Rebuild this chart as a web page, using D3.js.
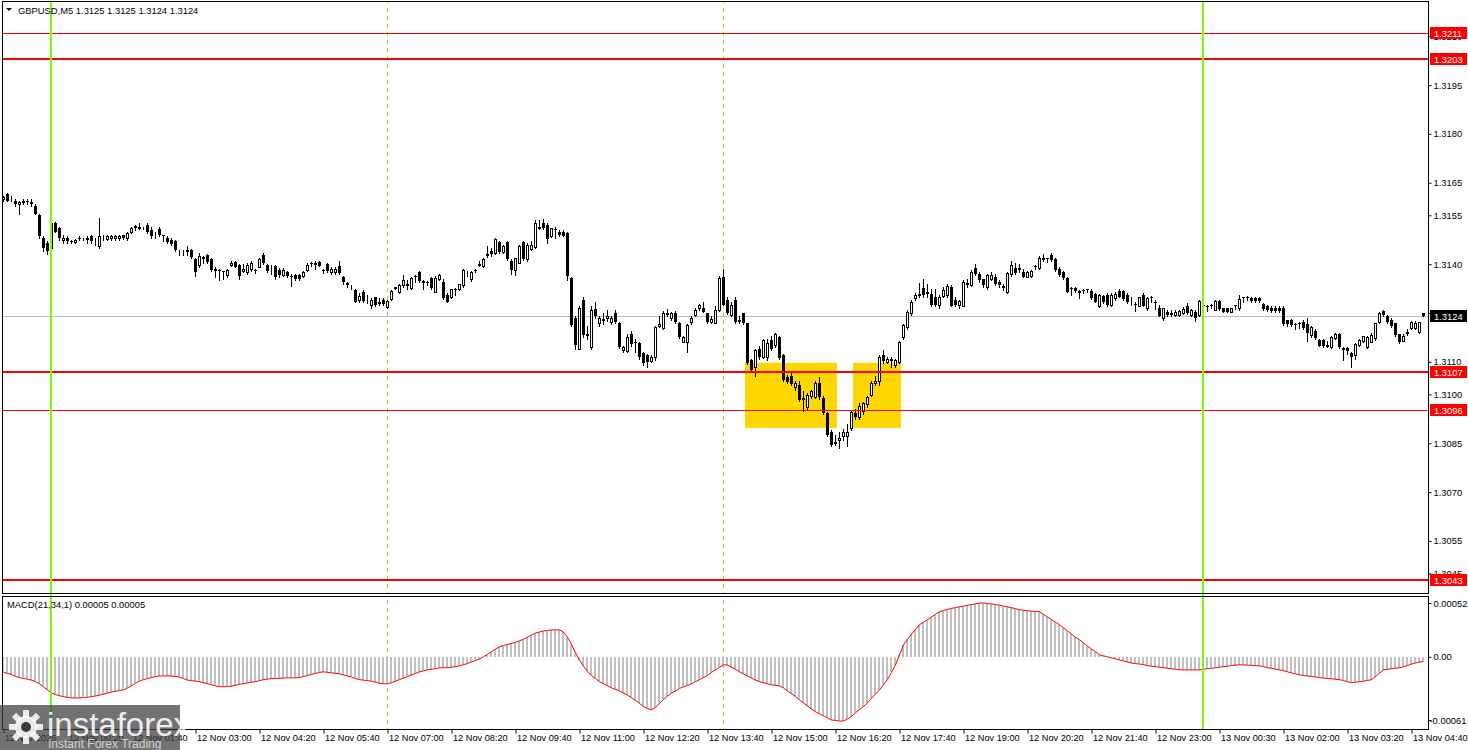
<!DOCTYPE html>
<html>
<head>
<meta charset="utf-8">
<script src="https://cdn.jsdelivr.net/npm/d3@7/dist/d3.min.js"></script>
<style>
  body { margin: 0; background: #fff; }
  svg text { font-family: "Liberation Sans", Arial, sans-serif; font-size: 9.4px; fill: #000; }
</style>
</head>
<body>
<svg id="chart" width="1468" height="750"></svg>
<script>
// GBPUSD M5 with MACD(21,34,1)

const symbolTitle = 'GBPUSD,M5  1.3125 1.3125 1.3124 1.3124';
const macdTitle = 'MACD(21,34,1) 0.00005 0.00005';
const basePrice = 1.3; // candle values below are pips above 1.3000

const opens = [160,161.5,160,159.5,158.5,159,159.5,159,158,155,148,146.5,145,152.5,151,147.5,148,147,146.8,148,147.8,147.8,148.5,147,145.5,148.5,147.8,148,148,148,148.8,148,150,151.7,151,151,152,150.5,149.5,150.8,148.8,148,147.5,147,144,143.5,144,144.3,141.5,139.7,142,142.8,141.5,138.3,138.3,137.8,136.6,139.8,140.6,139.7,138,137.5,138.5,138.3,139.2,142.8,139.7,138.5,139.5,138.3,136.8,137.7,136.5,136.7,136.7,136.4,138.2,140.5,140,140.6,138.3,139.9,137.5,137.5,139.5,136,134,133,132,129,131.5,129.5,127.3,129.8,128,129,126.9,129.2,132.7,131.5,133.5,134,132.6,136.5,137.5,134.5,134.5,135.6,131.5,135.4,134.6,130.6,129.8,132.5,132.3,133.5,137.8,135.5,138.3,139.8,139.4,142.8,144,143.5,146.9,143.8,146.9,141,138.2,140.5,146.9,141.5,144.6,145.4,151,152.7,152,148.6,150.8,150,149.8,149.7,135.6,123.4,114,129,118.3,114.5,126.3,122,123,123.5,122.3,125,122,113.5,113.4,118.7,116,115.7,112.6,112,110.4,111.4,121,120.3,124.8,123.4,124.9,121.8,116.2,116.2,122.3,124.4,126.4,126.4,124.9,122.3,122,125.9,136,129,124.4,129,122.5,124.9,121.8,110.6,108.3,113.8,111.6,111.4,116.7,115.2,117.7,112.1,105.4,105.5,102.4,103,98.5,96.2,99.5,99.3,103.5,98.8,94.2,88.6,85,86,87.2,87.2,89.6,94.3,93.2,95,97,99.8,103.5,104,112.1,110,110.5,109,110,117.6,120.7,125,129.5,130.5,132.6,131,130.8,130,127.3,130.2,130.5,132.9,129,127.3,127.1,134,133.6,138.7,137.1,135.3,132.9,135.5,136.1,134.5,133,131.5,137,138.7,138.5,137.7,136.2,136.5,139.5,138.7,141.5,141.8,142.8,141.5,138.4,137.5,135.6,132.7,132.8,131.5,132,132.3,131.8,130.8,127.1,130.2,130.5,127.5,129.5,131.8,131.8,130.5,128.7,127.8,127.2,130.5,126.5,129.8,128.5,126.6,123.4,125.4,124.8,124.4,124.5,125,127,124.4,125.4,124.5,127.3,127,127.6,126,128.7,126.4,126.4,125.4,127.3,126.4,129.8,130,129.7,129.7,129.7,127.7,127.2,126.6,126.6,126.6,126.6,122.8,122.8,121.5,122,122.1,121.5,118.2,119.5,116.7,116.7,115,114.6,117.2,118.7,114,114.3,112.6,112.1,115.2,116.5,114.6,116.2,117.2,122.3,125.6,124.2,123,121.8,118.4,116.5,119,120.3,120.5,119.3,125];
const highs = [161,162,161,160,159.5,160,160,160,158.5,155.5,148.5,147,153,153,151.5,149,148.5,147.5,147.8,148.5,148,148.5,148.8,148,154.2,149,148.8,148.8,148.8,149,149,150,151.5,152,152.5,151.3,152.5,151.5,149.8,151.5,149,148.5,148,147.5,144.3,144.3,145.5,144.5,142,143.5,142.5,143,142,139,138.5,138,138.5,141,141,140,140,140.5,141,138.5,141.8,143.5,140,139.7,139.8,138.8,138.8,138,137,137,137,138,140.2,140.7,141,141,138.5,140.5,139,139,141,136.5,134.5,133.6,132.5,131,132,130.5,129.5,130,129.5,129.5,129,132,133,133.8,136.7,135,136,136.8,138,135,134.8,136,136.3,137,135.5,131,132.5,132.7,134,138.5,138,137.8,138.5,141,141.8,145.6,145,148,147,146,147,141.5,142,145.8,147.2,146.5,147,153.5,153.7,154,152.5,151,151.5,150.5,150.5,150,136,124,127,130,121,127,128.5,124,125,126,124,126,122.3,115,118.5,119.5,117,116,113,112.5,112,121,124,125.5,126.3,125.3,125.5,122.3,118,121.5,124,126.5,127.7,128.5,125,124,127,136.5,138.4,130,128.3,130,124,125,122,111,114,115,117,117,118,119,118,112.5,106,106.5,104,104,101,100.5,101.5,104,105.4,99.5,94.5,89,87.5,88.6,89.5,91,95,95.5,97.5,97.8,99.5,104,105.5,112,113.5,111.5,111.5,111,116.5,121.5,125.8,129,131,134.3,135.5,134,132.5,132.5,130.5,133,134,133.5,130,129,135,135.5,138.2,140,137.5,135.5,137,137.5,137,135,134,137.5,141,140.5,140,138.5,138,138.2,139.8,142.5,143,142,143.5,142,139,138,136,133,133,132,132.5,132.5,132.5,131,130.8,130.5,131,131,131.5,132.5,132.2,131,129.8,128.5,130,131,130,130.3,129,127.5,126.6,126,126,125.8,126,126.8,128,126.2,126,129,127.5,127.3,127.8,129,129,126.6,126.6,126.6,127.5,130.5,130,130.3,130,130,130,128,127.5,127,127,127,127,123,123.2,121.8,122.3,123,123.5,121,120,117,117,116.5,118,119,119,114.5,114.5,113,115.8,117,118,118,119,122,125.3,126,124.5,123.5,122,118.7,118.5,120,122.6,122.6,122.3,125];
const lows = [159.5,159.5,159.5,158,155.5,158.5,158.5,158,155.5,148,144,143,144,150,147.5,146.5,146.5,146.5,146.5,147.5,147.5,146.5,146.5,146,145,147.5,147.5,147.5,147.5,147.5,147.8,147.5,149.5,150.5,150.8,150.8,149.5,148,148,148.5,147,146.5,146,144,142.8,142.8,142.8,142,136.5,139,140.5,140.5,138,136,135,135.5,136,139.5,139,135.5,137.5,137,138,137.3,139,140,137.5,137,135.5,136,136.5,136,133.3,135,135,136,137.8,139.5,138.5,139.3,137.4,137.5,137,137,137,134,133,132.5,128.3,128.5,128.5,128,126.5,127,127.5,127.5,126.5,129,132.5,131,133,132.5,132.3,134.6,134.5,132.5,133.5,132.5,131.3,135,129.3,128.3,129.5,130.5,132,133,136.5,134.8,137.5,139.3,139,142.3,142.5,143,143.5,143.5,141.3,137,136.7,140.2,141.3,141,144.3,145,150.7,150.8,146.5,148.3,148,148.5,148.5,135,121,114,113.8,117.5,117,114,123.5,121,121.5,122.5,121.5,122,114.3,113,113,115,113,111,109,108.5,110,110.5,120.7,120,124,123,122,117.3,116,113,121.5,124,126,125.3,122,122,121.8,125.5,127.3,124.8,124,122,122,121.5,109.3,107,105.5,111,111.3,110.5,113.5,114.5,111,104,103.5,103,101.5,98,94.8,95.5,99,99,98.5,94,87.3,84,84.5,83.5,86,84,89,92.5,92.5,94,96,99.5,103,103,109.5,109.5,108.5,108.5,109.5,117,120,124.5,129,130,130,130,127,127,126.5,130,130,127,127,126.5,127,133,133.3,136.8,134.5,133,132.5,135,133.5,133,132,131,136.5,137,137.5,136,136,136,138.4,138.5,141,140.8,141,138,136.5,135.5,131.3,130.5,131.5,129.5,131,131.3,129.3,128.3,126.8,128,127,127,129,129.8,129,128,127.5,125.7,127,127,126,128.5,126.2,124,123,124,124,124,124,124.8,124.7,124,122.5,124,126.7,125.5,126.5,125.8,126,125.2,125.2,125.2,126.2,126,128.5,129,128.5,128.5,128.5,126,125.5,125.2,125.2,125.2,121.3,121,121,120,120.5,120,116.5,117.5,117,114.8,114.5,114.5,114.3,117,114.3,110.5,112.5,108.5,111,115,116,114.3,116,116.8,122,124.2,122,120.8,118,115.8,116.3,118.2,120,120.2,119,124];
const closes = [160.5,159.5,160,158.5,159,159.5,159,158.5,155.5,148.5,145,144,152.5,150,148,148,147,146.8,147.5,147.8,147.8,148,147,147.2,148.7,148.5,148.5,148.5,148.5,148.6,148,149.6,151,151,151.5,151,150,148.5,149.5,149,148.7,146.7,146.2,144.3,144,143.5,144.3,142.3,137.7,142.5,142.3,140.8,138.3,138.5,137.8,137.5,138.2,140.5,139.2,136.5,138.5,139.7,140.5,138.2,141.5,140.3,137.8,138.5,136.2,136.7,138.3,136.5,136,135.4,135.5,137.7,139.7,140.4,140.3,139.5,138.2,137.8,138.5,138.5,137.3,134.4,134.2,133,128.5,130.2,128.8,129.7,129,127.4,128.3,127.8,128.7,131.8,132.9,133.5,135,133.2,135.6,136.3,134.7,134.7,134.3,132.6,135.8,136.7,129.5,128.5,132.3,132.3,133.9,138.3,137.8,137.5,138.2,140,141.6,143,143,147.7,143.8,145.5,141.5,138.3,141.8,145.6,141.5,146,145.9,152.5,151.5,151,147.6,151,150.5,148.8,148.6,136.5,121.3,115.2,126.4,118.2,118.5,126,124,123.4,123.3,124,123.5,122.3,114.5,114.5,117.7,115.5,115.8,111.4,109.7,110,111.6,120.8,121.5,124.9,125,124.9,122.3,117.5,117.5,121.3,123.4,125.9,127.4,125.4,122.3,123.3,125.9,135.6,127.5,125,127.4,122.3,122.8,121.8,109.5,107.5,113.6,111.4,116.7,115.7,113.8,118.5,111.1,104.3,103.8,103.2,103.6,98.3,99,99.8,101,103.4,99.3,94.2,87.5,84.5,85.5,86.5,88.6,88.5,94.7,93,96.5,97.3,99.2,103.4,104,111.5,110.3,111,110.8,110.5,116.1,121.3,125.3,128.4,130.5,130.8,130.6,131.3,127.5,127.3,129.8,132,133.3,127.2,127.3,128.7,134.6,134.3,137.7,137,135.2,133.7,136.7,136.7,134,133.5,133.2,137.4,139.7,137.2,138.8,136.2,137.7,137.8,139.4,141.8,141.8,141.7,141.3,138.2,136.7,135.8,131.5,132.5,131.6,131.8,131.8,132.2,129.6,128.5,130.5,128.5,127.3,130.5,130.8,130,129.3,128.3,128.8,127.6,129.8,127.2,129.7,129.7,128.3,124.2,126.4,124.5,125,125.4,125.6,126.2,125,125.8,123.5,128.7,127,126.8,127.5,128.7,126.3,125.4,125.4,126.4,127.2,129.3,129.7,129.9,128.8,128.8,128.8,126.3,125.8,125.5,125.5,125.5,121.5,121.5,121.3,121.4,121.8,120.3,119,120.8,117.2,115,114.8,115.2,117.7,118.7,114.5,114.1,113.2,111.4,115.4,116.7,117.8,117.7,118.2,121.8,124.9,124.4,122.3,121,118.2,116.2,117.8,119.3,122.3,122,122.1,124];

// MACD main value per bar, in units of 0.00001
const macdValues = [-15,-16,-17,-19,-20,-21,-21.5,-22.5,-24,-26,-29,-32,-35,-36.5,-37.5,-38.5,-39,-39.7,-39.7,-39.7,-39.5,-39,-38.4,-37.8,-37,-36,-35,-34,-33.3,-32.5,-32,-30,-28,-25.5,-23.5,-22,-21,-20,-19,-18.5,-18.4,-18.4,-18.5,-19,-19.5,-21,-22.5,-23,-23.5,-24,-25,-26,-27,-28,-28.8,-29,-28.7,-28.3,-27.5,-26.5,-26,-25.2,-24.5,-24,-23,-22,-21.5,-21,-21,-20.8,-20.5,-20.3,-20.3,-20.3,-20,-19,-18,-17,-16,-15,-14.5,-15,-15.5,-16,-16.5,-17.5,-18.5,-19.5,-21,-22,-22.5,-23,-23.5,-24.5,-25.5,-26,-26,-25,-23.5,-22,-20.5,-19,-17.5,-16,-14.5,-13.5,-12.5,-12,-11.5,-10.6,-10.5,-10.5,-10,-9.5,-8.7,-7.5,-6.5,-5,-3.5,-2,0,2.5,5,7.5,9.7,11,12,13,14,15.5,17,19,21,23,24,25,25.5,26,26,26,24,19,12,4,-3,-9,-14,-18,-21,-24,-26,-28,-30,-31.5,-33,-35,-37,-39.5,-42,-45,-48,-50,-51,-49,-45,-41,-38,-35,-33,-30.5,-29,-27.5,-26,-24,-22,-20,-18,-15,-12.6,-10,-7.7,-8,-10,-12,-14.5,-16.5,-18.5,-20.5,-22.5,-24,-25,-26,-27,-27.5,-28,-30,-33,-35.5,-38.5,-41.6,-44.5,-47.5,-50.5,-53,-55,-57,-59,-61,-61.5,-62,-62,-60,-57.5,-54,-51,-48,-44.5,-40,-36,-32,-27,-22,-15,-8,2,11.6,17,22,26.5,31,33.5,36,38.5,41,43.6,44.8,45.8,46.8,47.6,48.4,49,49.8,50.5,51.2,52,52,51.5,51,50.5,50,49,48.2,47.4,46.5,45.5,45,44.6,44.2,43.8,43.6,41,38.5,36,33.5,31,28,25,22,19,16.5,13.5,10.5,7.5,5,2,1,0,-1,-2,-3,-4,-5,-6,-6.5,-7,-7.5,-8.5,-9,-9.5,-10,-10.5,-11,-11.5,-12,-12.6,-12.6,-12.6,-12.6,-12.6,-12.6,-12,-11.5,-11,-10.5,-10,-9.5,-9,-8.5,-8,-7.7,-7.8,-8,-8.2,-8.5,-8.7,-9.5,-10.5,-11,-12,-12.6,-13.5,-14.5,-15.5,-16.5,-17.4,-18,-18.5,-19,-19.5,-20,-20.5,-21,-21.2,-21.6,-22,-23,-24,-25,-24.5,-24,-23.5,-22.8,-22,-19,-16,-12.6,-12,-11.5,-11,-10.6,-9.5,-8.5,-7,-6,-5,-4.5];

const priceTicks = [1.3210, 1.3195, 1.3180, 1.3165, 1.3155, 1.3140, 1.3125, 1.3110, 1.3100, 1.3085, 1.3070, 1.3055, 1.3045];
const macdTicks = [0.00052, 0, -0.00061];
const macdTickText = ['0.00052', '0.00', '-0.00061'];
const timeLabels = ['11 Nov 2025', '12 Nov 00:20', '12 Nov 01:40', '12 Nov 03:00', '12 Nov 04:20', '12 Nov 05:40',
  '12 Nov 07:00', '12 Nov 08:20', '12 Nov 09:40', '12 Nov 11:00', '12 Nov 12:20', '12 Nov 13:40', '12 Nov 15:00',
  '12 Nov 16:20', '12 Nov 17:40', '12 Nov 19:00', '12 Nov 20:20', '12 Nov 21:40', '12 Nov 23:00', '13 Nov 00:30',
  '13 Nov 02:00', '13 Nov 03:20', '13 Nov 04:40'];
const barsPerLabel = 16;

const levelPrices = [1.32111, 1.32030, 1.31070, 1.30953, 1.30430];
const levelLabels = ['1.3211', '1.3203', '1.3107', '1.3096', '1.3043'];
const thickLevels = ['1.3203', '1.3107', '1.3043'];
const lastPrice = 1.3124;
const sessionBars = [12, 300];   // green separators
const gridBars = [96, 180];      // dashed grid
// highlighted zones: [firstBar, lastBar, lowPrice, highPrice]
const zones = [[186, 208, 1.30897, 1.31097], [213, 224, 1.30897, 1.31097]];

const svg = d3.select('#chart');
const main = { left: 2, right: 1428, top: 1, bottom: 593 };
const sub = { top: 596, bottom: 729 };

const x = d3.scaleLinear().domain([0, closes.length - 1]).range([3, 3 + 4 * (closes.length - 1)]);
const y = d3.scaleLinear().domain([1.3043, 1.3203]).range([580, 59]);
const ym = d3.scaleLinear().domain([-0.00061, 0.00052]).range([720, 603]);
const px = v => basePrice + v / 10000;
const cx = i => Math.round(x(i));

// clip regions
const defs = svg.append('defs');
defs.append('clipPath').attr('id', 'clipMain').append('rect')
  .attr('x', main.left).attr('y', main.top).attr('width', main.right - main.left).attr('height', main.bottom - main.top);
defs.append('clipPath').attr('id', 'clipSub').append('rect')
  .attr('x', main.left).attr('y', sub.top).attr('width', main.right - main.left).attr('height', sub.bottom - sub.top);

const gMain = svg.append('g').attr('clip-path', 'url(#clipMain)');
const gSub = svg.append('g').attr('clip-path', 'url(#clipSub)');

// zones behind candles
gMain.selectAll('rect.zone').data(zones).enter().append('rect')
  .attr('x', d => cx(d[0]) - 2)
  .attr('width', d => cx(d[1]) - cx(d[0]) + 4)
  .attr('y', d => y(d[3]))
  .attr('height', d => y(d[2]) - y(d[3]))
  .attr('fill', '#ffd700');

// dashed grid
[gMain, gSub].forEach(function (g) {
  g.selectAll('line.grid').data(gridBars).enter().append('line')
    .attr('x1', d => cx(d) + 0.5).attr('x2', d => cx(d) + 0.5)
    .attr('y1', 0).attr('y2', 750)
    .attr('stroke', '#9ad64a').attr('stroke-dasharray', '4,4');
});

// last price line
gMain.append('line')
  .attr('x1', main.left).attr('x2', main.right)
  .attr('y1', Math.round(y(lastPrice)) + 0.5).attr('y2', Math.round(y(lastPrice)) + 0.5)
  .attr('stroke', '#c0c0c0');

// candles
const idx = d3.range(closes.length);
const candle = gMain.selectAll('g.c').data(idx).enter().append('g');
candle.append('line')
  .attr('x1', i => cx(i) + 0.5).attr('x2', i => cx(i) + 0.5)
  .attr('y1', i => Math.round(y(px(highs[i])))).attr('y2', i => Math.round(y(px(lows[i]))) + 1)
  .attr('stroke', '#000');
candle.append('rect')
  .attr('x', i => closes[i] >= opens[i] ? cx(i) - 0.5 : cx(i) - 1)
  .attr('width', i => closes[i] >= opens[i] ? 2 : 3)
  .attr('y', i => {
    const top = Math.round(y(px(Math.max(opens[i], closes[i]))));
    return closes[i] >= opens[i] ? top + 0.5 : top;
  })
  .attr('height', i => {
    const top = Math.round(y(px(Math.max(opens[i], closes[i]))));
    const bot = Math.round(y(px(Math.min(opens[i], closes[i]))));
    return closes[i] >= opens[i] ? Math.max(bot - top, 0) : Math.max(bot - top, 1);
  })
  .attr('fill', i => closes[i] >= opens[i] ? '#fff' : '#000')
  .attr('stroke', i => closes[i] >= opens[i] ? '#000' : 'none');

// level lines
const isThick = k => thickLevels.includes(levelLabels[k]);
gMain.selectAll('line.level').data(levelPrices).enter().append('line')
  .attr('x1', main.left).attr('x2', main.right)
  .attr('y1', (d, k) => isThick(k) ? Math.round(y(d)) : Math.round(y(d)) + 0.5)
  .attr('y2', (d, k) => isThick(k) ? Math.round(y(d)) : Math.round(y(d)) + 0.5)
  .attr('stroke', '#ff0000')
  .attr('stroke-width', (d, k) => isThick(k) ? 2 : 1);

// MACD histogram and signal
const zeroY = Math.round(ym(0));
gSub.selectAll('rect.h').data(idx).enter().append('rect')
  .attr('x', i => cx(i) - 1)
  .attr('width', 2)
  .attr('y', i => Math.min(ym(macdValues[i] / 1e5), zeroY))
  .attr('height', i => Math.abs(ym(macdValues[i] / 1e5) - zeroY))
  .attr('fill', '#c0c0c0');
gSub.append('path')
  .datum(idx)
  .attr('fill', 'none').attr('stroke', '#ff0000').attr('stroke-width', 1)
  .attr('d', d3.line().x(i => cx(i) + 0.5).y(i => ym(macdValues[i] / 1e5)));

// session separators through both panes
svg.selectAll('line.sess').data(sessionBars).enter().append('line')
  .attr('x1', d => cx(d)).attr('x2', d => cx(d))
  .attr('y1', main.top).attr('y2', sub.bottom)
  .attr('stroke', '#7cfc00').attr('stroke-width', 2);

// pane frames
svg.append('rect').attr('x', main.left + 0.5).attr('y', main.top + 0.5)
  .attr('width', main.right - main.left).attr('height', main.bottom - main.top)
  .attr('fill', 'none').attr('stroke', '#000');
svg.append('rect').attr('x', main.left + 0.5).attr('y', sub.top + 0.5)
  .attr('width', main.right - main.left).attr('height', sub.bottom - sub.top)
  .attr('fill', 'none').attr('stroke', '#000');

// price axis
const priceAxis = svg.append('g').attr('transform', 'translate(' + (main.right + 0.5) + ',0)')
  .call(d3.axisRight(y).tickValues(priceTicks).tickSize(3).tickPadding(2).tickFormat(d3.format('.4f')));
priceAxis.select('.domain').remove();

// price tags on the right
const tags = levelPrices.map((p, k) => ({ p: p, t: levelLabels[k], bg: '#ff0000' }))
  .concat([{ p: lastPrice, t: '1.3124', bg: '#000' }]);
const tag = svg.selectAll('g.tag').data(tags).enter().append('g')
  .attr('transform', d => 'translate(' + (main.right + 2) + ',' + Math.round(y(d.p)) + ')');
tag.append('rect').attr('x', 0).attr('y', -6).attr('width', 37).attr('height', 12).attr('fill', d => d.bg);
tag.append('text').attr('x', 4).attr('y', 3.5).style('fill', '#fff').text(d => d.t);

// MACD axis
const macdAxis = svg.append('g').attr('transform', 'translate(' + (main.right + 0.5) + ',0)')
  .call(d3.axisRight(ym).tickValues(macdTicks).tickSize(3).tickPadding(2)
    .tickFormat((d, i) => macdTickText[i]));
macdAxis.select('.domain').remove();
macdAxis.selectAll('text').filter(d => d < 0).attr('x', 1);

// time axis
const timeIdx = timeLabels.map((t, k) => k * barsPerLabel);
const timeAxis = svg.append('g').attr('transform', 'translate(0.5,' + (sub.bottom + 0.5) + ')')
  .call(d3.axisBottom(x).tickValues(timeIdx).tickSize(4).tickFormat((d, k) => timeLabels[k]));
timeAxis.select('.domain').remove();
timeAxis.selectAll('text').attr('text-anchor', 'start').attr('x', 1).attr('y', 5).attr('dy', '0.71em')
  .style('font-size', '9.2px');

// titles
svg.append('path').attr('d', 'M6,8 L12,8 L9,11 Z').attr('fill', '#000');
svg.append('text').attr('x', 18).attr('y', 14).text(symbolTitle);
svg.append('text').attr('x', 7).attr('y', 608).text(macdTitle);

// watermark
const wm = svg.append('g');
wm.append('rect').attr('x', 0).attr('y', 705).attr('width', 180).attr('height', 45)
  .attr('fill', 'rgb(60,60,60)').attr('fill-opacity', 0.72);
const gear = wm.append('g').attr('transform', 'translate(26,727)');
gear.selectAll('rect').data(d3.range(8)).enter().append('rect')
  .attr('x', -3).attr('y', -17).attr('width', 6).attr('height', 8)
  .attr('transform', d => 'rotate(' + d * 45 + ')')
  .attr('fill', '#fff').attr('fill-opacity', 0.85);
gear.append('circle').attr('r', 11).attr('fill', '#fff').attr('fill-opacity', 0.85);
gear.append('circle').attr('r', 5).attr('fill', 'rgb(60,60,60)');
wm.append('text').attr('x', 47).attr('y', 736)
  .style('font-size', '33px').style('fill', '#fff').style('fill-opacity', 0.9).text('instaforex');
wm.append('text').attr('x', 48).attr('y', 748)
  .style('font-size', '12px').style('fill', '#ddd').style('fill-opacity', 0.9).text('Instant Forex Trading');
</script>
</body>
</html>
